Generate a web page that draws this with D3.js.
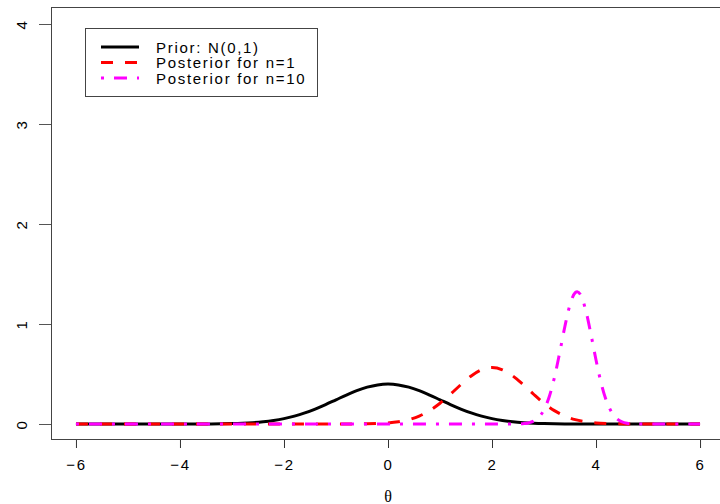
<!DOCTYPE html>
<html>
<head>
<meta charset="utf-8">
<script src="https://cdn.jsdelivr.net/npm/d3@7"></script>
<style>
  body { margin: 0; background: #fff; }
  svg { display: block; }
</style>
</head>
<body>
<svg id="chart"></svg>
<script>
// densities
const priorTheta = [-6, -5, -4.5, -4, -3.8, -3.6, -3.4, -3.2, -3, -2.8, -2.6, -2.4, -2.2, -2, -1.8, -1.6, -1.4, -1.2, -1, -0.8, -0.6, -0.4, -0.2,
  0, 0.2, 0.4, 0.6, 0.8, 1, 1.2, 1.4, 1.6, 1.8, 2, 2.2, 2.4, 2.6, 2.8, 3, 3.2, 3.4, 3.6, 3.8, 4, 4.5, 5, 6];
const priorDensity = [0, 0, 0, 0.0001, 0.0003, 0.0006, 0.0012, 0.0024, 0.0044, 0.0079, 0.0136, 0.0224, 0.0355, 0.0540, 0.0790, 0.1109, 0.1497, 0.1942, 0.2420, 0.2897, 0.3332, 0.3683, 0.3910,
  0.3989, 0.3910, 0.3683, 0.3332, 0.2897, 0.2420, 0.1942, 0.1497, 0.1109, 0.0790, 0.0540, 0.0355, 0.0224, 0.0136, 0.0079, 0.0044, 0.0024, 0.0012, 0.0006, 0.0003, 0.0001, 0, 0, 0];

const post1Theta = [-6, -4, -2, -1, -0.8, -0.6, -0.4, -0.2, 0, 0.2, 0.4, 0.6, 0.8, 1, 1.2, 1.4, 1.6, 1.8,
  2, 2.2, 2.4, 2.6, 2.8, 3, 3.2, 3.4, 3.6, 3.8, 4, 4.2, 4.4, 4.6, 4.8, 5, 6];
const post1Density = [0, 0, 0, 0.0001, 0.0002, 0.0007, 0.0018, 0.0045, 0.0103, 0.0221, 0.0436, 0.0795, 0.1337, 0.2076, 0.2975, 0.3936, 0.4808, 0.5421,
  0.5642, 0.5421, 0.4808, 0.3936, 0.2975, 0.2076, 0.1337, 0.0795, 0.0436, 0.0221, 0.0103, 0.0045, 0.0018, 0.0007, 0.0002, 0.0001, 0];

const post10Theta = [-6, -2, 2, 2.5, 2.6, 2.7, 2.8, 2.9, 3, 3.1, 3.2, 3.3, 3.4, 3.5, 3.6, 3.64, 3.7, 3.8, 3.9,
  4, 4.1, 4.2, 4.3, 4.4, 4.5, 4.6, 4.7, 4.8, 5, 6];
const post10Density = [0, 0, 0, 0.0011, 0.0036, 0.0107, 0.0282, 0.0670, 0.1426, 0.2719, 0.4643, 0.7101, 0.9731, 1.1945, 1.3136, 1.3232, 1.2941, 1.1421, 0.9030,
  0.6395, 0.4057, 0.2306, 0.1174, 0.0536, 0.0219, 0.0080, 0.0026, 0.0008, 0, 0];

const xTicks = [-6, -4, -2, 0, 2, 4, 6];
const yTicks = [0, 1, 2, 3, 4];
const legendLabels = ["Prior: N(0,1)", "Posterior for n=1", "Posterior for n=10"];
const seriesColors = ["#000000", "#FF0000", "#FF00FF"];
const seriesDash = [null, "12,12", "3,10,13,10"];

const W = 720, H = 504;
const svg = d3.select('#chart').attr('width', W).attr('height', H);

// R pads the data range by 4% on each side
const x = d3.scaleLinear().domain([-6.48, 6.48]).range([51, 725]);
const y = d3.scaleLinear().domain([-0.16, 4.16]).range([440, 8]);

const font = '"Liberation Sans", Arial, Helvetica, sans-serif';
// R's png text comes out wide, so space the letters a bit
const textStyle = sel => sel
    .style('font-family', font)
    .style('font-size', '15px')
    .style('letter-spacing', '1.7px')
    .attr('fill', '#000');

// x axis
const xAxis = svg.append('g')
    .attr('transform', 'translate(0,440)')
    .call(d3.axisBottom(x).tickValues(xTicks).tickSize(8).tickPadding(11).tickFormat(d3.format('d')));
xAxis.select('.domain').remove();
xAxis.selectAll('line').attr('stroke', '#333');
xAxis.selectAll('text').call(textStyle);

// y axis, labels turned like R's las=0
const yAxis = svg.append('g')
    .attr('transform', 'translate(51,0)')
    .call(d3.axisLeft(y).tickValues(yTicks).tickSize(12).tickFormat(d3.format('d')));
yAxis.select('.domain').remove();
yAxis.selectAll('line').attr('stroke', '#555');
yAxis.selectAll('text')
    .attr('x', null).attr('dy', null)
    .attr('text-anchor', 'middle')
    .attr('transform', 'translate(-24,0) rotate(-90)')
    .call(textStyle);

// x label
svg.append('text')
    .attr('x', x(0)).attr('y', 502)
    .attr('text-anchor', 'middle')
    .style('font-family', '"Liberation Serif", "DejaVu Serif", serif')
    .style('font-size', '16px')
    .text('θ');

// curves
const series = [
  { theta: priorTheta, dens: priorDensity },
  { theta: post1Theta, dens: post1Density },
  { theta: post10Theta, dens: post10Density }
];
const line = d3.line()
    .x(d => x(d[0]))
    .y(d => y(d[1]))
    .curve(d3.curveMonotoneX);

series.forEach((s, i) => {
  const pts = s.theta.map((t, j) => [t, s.dens[j]]);
  svg.append('path')
      .datum(pts)
      .attr('d', line)
      .attr('fill', 'none')
      .attr('stroke', seriesColors[i])
      .attr('stroke-width', 3)
      .attr('stroke-dasharray', seriesDash[i]);
});

// plot box
svg.append('rect')
    .attr('x', 51.5).attr('y', 7.5)
    .attr('width', 725 - 51).attr('height', 440 - 8)
    .attr('fill', 'none')
    .attr('stroke', '#444')
    .attr('stroke-width', 1);

// legend
const leg = svg.append('g');
leg.append('rect')
    .attr('x', 85.5).attr('y', 28.5)
    .attr('width', 232).attr('height', 68)
    .attr('fill', '#fff')
    .attr('stroke', '#444');
legendLabels.forEach((lab, i) => {
  const ry = 47 + i * 15.5;
  leg.append('line')
      .attr('x1', 101).attr('x2', 139)
      .attr('y1', ry).attr('y2', ry)
      .attr('stroke', seriesColors[i])
      .attr('stroke-width', 3)
      .attr('stroke-dasharray', seriesDash[i]);
  leg.append('text')
      .attr('x', 156).attr('y', ry + 5.5)
      .call(textStyle)
      .text(lab);
});
</script>
</body>
</html>
